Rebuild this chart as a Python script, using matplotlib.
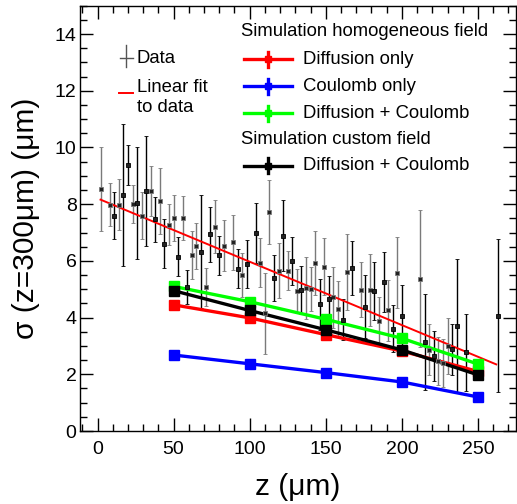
import numpy as np
import matplotlib
matplotlib.use('Agg')
import matplotlib.pyplot as plt
from matplotlib.lines import Line2D
from matplotlib.ticker import MultipleLocator

plt.rcParams['font.family'] = ['Liberation Sans', 'DejaVu Sans']

# measured data: z (um), sigma (um), error, bar colour (g = grey, k = black)
data_x = [2, 8, 11, 14, 17, 20, 23, 26, 29, 32, 35, 38, 41, 44, 47, 50, 53, 56, 59, 62,
          65, 68, 71, 74, 77, 80, 83, 89, 92, 95, 98, 104, 107, 110, 113, 116, 119, 122, 125, 128,
          131, 134, 137, 140, 143, 146, 149, 152, 155, 158, 161, 164, 167, 173, 176, 179, 182, 185, 188, 191,
          194, 197, 200, 212, 215, 218, 221, 224, 227, 230, 233, 236, 242, 263]
data_y = [8.54, 7.98, 7.60, 7.98, 8.32, 9.39, 8.00, 8.05, 7.60, 8.47, 8.47, 7.47, 8.12, 6.61, 7.28, 7.51, 6.15, 7.51, 5.08, 6.21,
          6.52, 6.33, 5.08, 6.94, 7.21, 6.20, 6.53, 6.65, 5.73, 5.51, 5.89, 6.97, 5.94, 4.15, 7.71, 5.40, 5.65, 6.88, 5.66, 5.99,
          4.95, 4.98, 5.04, 5.00, 5.92, 4.47, 5.80, 4.66, 4.72, 4.32, 3.92, 5.61, 5.75, 4.98, 4.39, 4.98, 4.94, 3.89, 5.27, 4.25,
          3.61, 5.59, 4.07, 5.37, 3.15, 2.86, 2.65, 2.47, 2.40, 3.00, 2.88, 3.72, 2.77, 4.07]
data_err = [1.47, 0.75, 0.83, 0.90, 2.50, 0.71, 0.67, 1.98, 0.82, 1.93, 0.87, 0.79, 1.16, 0.87, 0.73, 0.82, 0.69, 0.78, 0.60, 0.86,
            0.80, 2.00, 0.66, 0.97, 0.93, 0.69, 0.90, 0.96, 0.70, 0.77, 0.83, 1.06, 0.85, 1.42, 1.13, 0.82, 0.97, 1.25, 0.70, 0.85,
            0.78, 0.85, 1.09, 0.77, 1.13, 0.90, 0.99, 0.81, 1.08, 0.96, 0.72, 1.35, 0.95, 0.97, 1.12, 1.26, 1.02, 0.85, 1.06, 1.07,
            0.84, 1.25, 1.08, 2.41, 1.69, 0.90, 0.88, 0.86, 0.84, 1.00, 0.90, 2.33, 1.35, 2.70]
data_col = ("ggkgkkgkgk" "gkgkggkgkg" "gkgkgkggkg" "kkgggkgkgk" "gkgggkgkgg"
            "kgkgkgkgkg" "kgkgkgkggg" "kkkk")

# linear fit to data (end points)
fit_x = [2, 262]
fit_y = [8.16, 2.35]

# simulations
sim_x = [50, 100, 150, 200, 250]
sim_diff = [4.45, 3.99, 3.40, 2.82, 2.10]
sim_coul = [2.68, 2.37, 2.06, 1.73, 1.20]
sim_both = [5.10, 4.56, 3.94, 3.27, 2.36]
sim_custom = [4.95, 4.25, 3.57, 2.86, 1.98]

W, H = 517, 504
fig = plt.figure(figsize=(W / 100, H / 100), dpi=100)
ax = fig.add_axes([80 / W, 73 / H, 436 / W, 425.3 / H])

dx = np.array(data_x)
dy = np.array(data_y)
de = np.array(data_err)
cols = np.array(list(data_col))
for c, colour in [('g', '#7a7a7a'), ('k', 'black')]:
    m = cols == c
    ax.errorbar(dx[m], dy[m], yerr=de[m], fmt='s', color=colour, ms=2.3,
                elinewidth=1.0, capsize=1.6, capthick=1.0, mfc='#222222', mec=colour, mew=0.6)

ax.plot(fit_x, fit_y, color='red', lw=1.4)

for ys, colour in [(sim_diff, 'red'), (sim_coul, 'blue'), (sim_both, '#00ff00'), (sim_custom, 'black')]:
    ax.plot(sim_x, ys, color=colour, lw=2.4, marker='s', ms=6.5)

ax.set_xlim(-11.5, 275)
ax.set_ylim(0, 15)
ax.xaxis.set_major_locator(MultipleLocator(50))
ax.xaxis.set_minor_locator(MultipleLocator(10))
ax.yaxis.set_major_locator(MultipleLocator(2))
ax.yaxis.set_minor_locator(MultipleLocator(0.5))
ax.tick_params(which='both', direction='in', top=True, right=True, width=1)
ax.tick_params(which='major', length=9.5, labelsize=14)
ax.tick_params(axis='x', which='major', pad=7)
ax.tick_params(axis='y', which='major', pad=2.5)
ax.tick_params(which='minor', length=4.7)
for s in ax.spines.values():
    s.set_linewidth(1.0)

ax.set_xlabel('z (μm)', fontsize=21.5)
ax.set_ylabel('σ (z=300μm) (μm)', fontsize=21.5)
ax.xaxis.set_label_coords(0.5, -(486.7 - 431) / 425.3 + 0.0)
ax.xaxis.label.set_va('center')
ax.yaxis.set_label_coords(-(80 - 26) / 436, 0.5)
ax.yaxis.label.set_va('center')


def fx(px):
    return px / W


def fy(py):
    return 1 - py / H


def leg_line(x0, x1, y, **kw):
    fig.add_artist(Line2D([fx(x0), fx(x1)], [fy(y), fy(y)], **kw))


# left legend
fig.add_artist(Line2D([fx(126), fx(126)], [fy(45), fy(67)], color='#555555', lw=1.0))
leg_line(120, 133, 58.3, color='#555555', lw=1.0)
fig.text(fx(136.7), fy(58.3), 'Data', fontsize=13.3, va='center', ha='left')
leg_line(119, 133, 93.3, color='red', lw=1.4)
fig.text(fx(136.7), fy(87.7), 'Linear fit', fontsize=13.3, va='center', ha='left')
fig.text(fx(136.7), fy(107.3), 'to data', fontsize=13.3, va='center', ha='left')

# right legend
fig.text(fx(240.7), fy(31.7), 'Simulation homogeneous field', fontsize=13.3, va='center', ha='left')
fig.text(fx(240.7), fy(139.3), 'Simulation custom field', fontsize=13.3, va='center', ha='left')
entries = [('Diffusion only', 'red', 59.3), ('Coulomb only', 'blue', 86.0),
           ('Diffusion + Coulomb', '#00ff00', 113.3), ('Diffusion + Coulomb', 'black', 165.7)]
for label, colour, y in entries:
    leg_line(244, 291.7, y, color=colour, lw=2.4)
    fig.add_artist(Line2D([fx(268.3), fx(268.3)], [fy(y - 7.5), fy(y + 7.5)], color=colour, lw=2.4))
    fig.add_artist(Line2D([fx(268.3)], [fy(y)], color=colour, marker='s', ms=4.5))
    fig.text(fx(302.7), fy(y), label, fontsize=13.3, va='center', ha='left')

fig.savefig('out.png', dpi=100)
